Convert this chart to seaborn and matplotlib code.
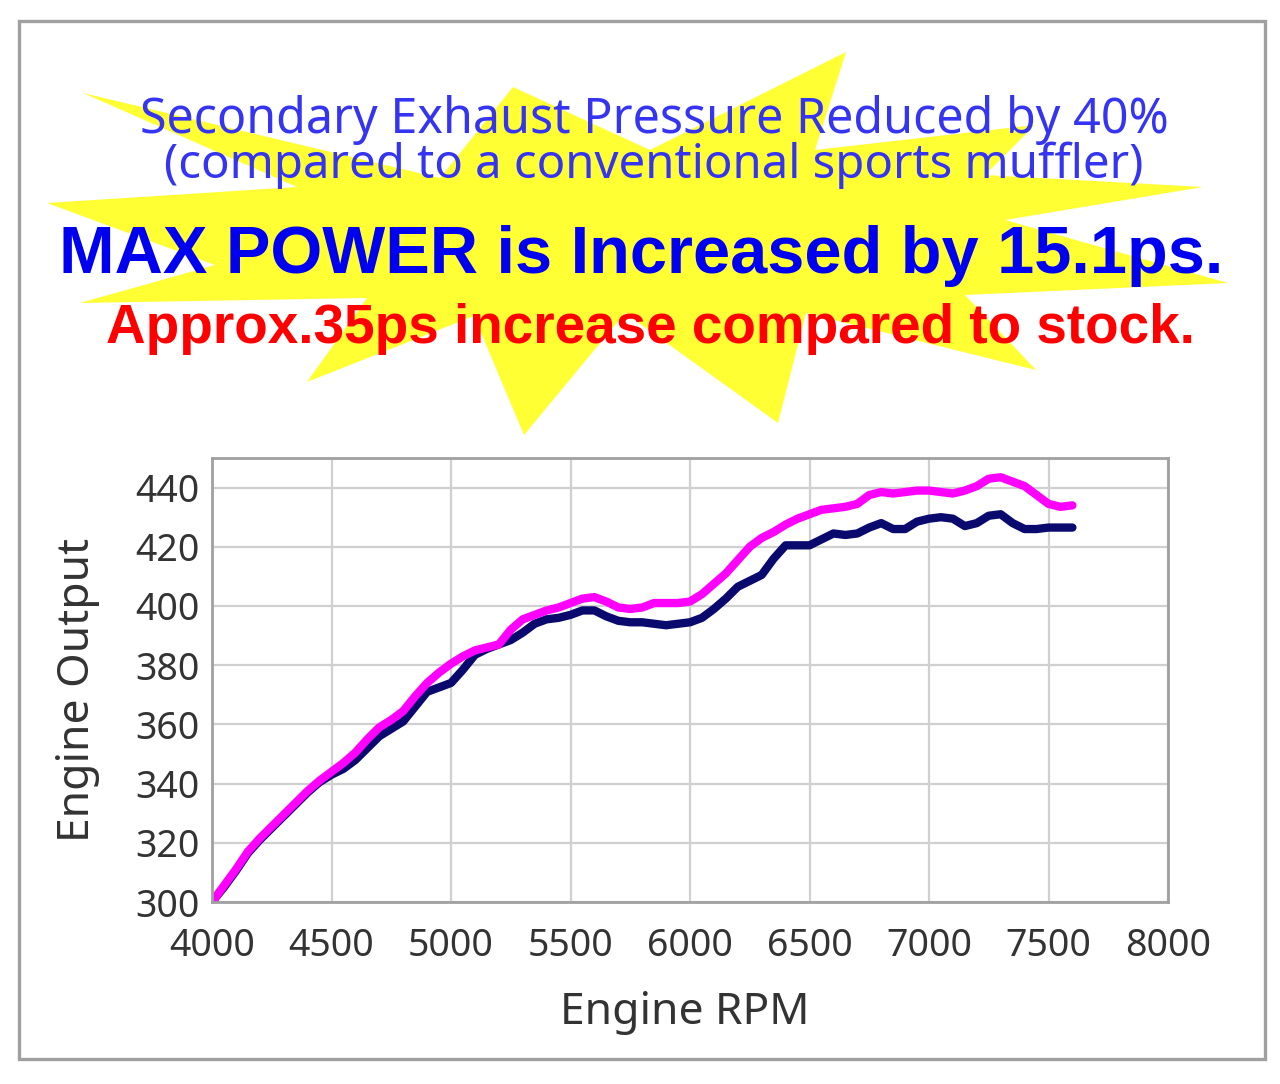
import matplotlib
matplotlib.use("Agg")
import numpy as np
import pandas as pd
import seaborn as sns
import matplotlib.pyplot as plt
from matplotlib.patches import Polygon, Rectangle

# ---------------- data ----------------
rpm = list(range(4000, 7601, 50))

conventional = [
    300, 305, 310.5, 316.5, 321, 325, 329, 333, 337, 340.5,
    343, 345, 348, 352, 356, 358.5, 361, 366, 371, 372.5,
    374, 378.5, 383.5, 385.5, 387, 388.5, 391, 394, 395.5, 396,
    397, 398.5, 398.5, 396.5, 395, 394.5, 394.5, 394, 393.5, 394,
    394.5, 396, 399, 402.5, 406.5, 408.5, 410.5, 416, 420.5, 420.5,
    420.5, 422.5, 424.5, 424, 424.5, 426.5, 428, 426, 426, 428.5,
    429.5, 430, 429.5, 427, 428, 430.5, 431, 428, 426, 426,
    426.5, 426.5, 426.5,
]

new_muffler = [
    300, 305.5, 311, 317, 321.5, 325.5, 329.5, 333.5, 337.5, 341,
    344, 347, 350.5, 355, 359, 361.5, 364.5, 369.5, 374, 377.5,
    380.5, 383, 385, 386, 387, 392, 395.5, 397, 398.5, 399.5,
    401, 402.5, 403, 401.5, 399.5, 399, 399.5, 401, 401, 401,
    401.5, 404, 407.5, 411, 415.5, 420, 423, 425, 427.5, 429.5,
    431, 432.5, 433, 433.5, 434.5, 437.5, 438.5, 438, 438.5, 439,
    439, 438.5, 438, 439, 440.5, 443, 443.5, 442, 440.5, 437.5,
    434.5, 433.5, 434,
]

series_names = ["Conventional", "New"]
series_colors = {"Conventional": "#0a0a6e", "New": "#ff00ff"}

x_ticks = [4000, 4500, 5000, 5500, 6000, 6500, 7000, 7500, 8000]
y_ticks = [300, 320, 340, 360, 380, 400, 420, 440]

title1 = "Secondary Exhaust Pressure Reduced by 40%"
title2 = "(compared to a conventional sports muffler)"
title3 = "MAX POWER is Increased by 15.1ps."
title4 = "Approx.35ps increase compared to stock."

# ---------------- figure ----------------
sns.set_style("white")
plt.rcParams['font.family'] = ['Noto Sans', 'DejaVu Sans']

W, H = 1280, 1084
fig = plt.figure(figsize=(W / 100, H / 100), dpi=100)
fig.patch.set_facecolor("white")


def fx(x):
    return x / W


def fy(y):
    return 1 - y / H


# decorative starburst behind the headline
star_px = [
    (83, 93), (440, 178), (513, 87), (650, 150), (846, 52), (815, 150),
    (1035, 125), (985, 175), (1203, 187), (1005, 220), (1228, 283),
    (965, 295), (1036, 370), (806, 313), (778, 423), (625, 313),
    (524, 435), (474, 316), (307, 382), (367, 298), (80, 303),
    (215, 265), (47, 203), (297, 187),
]
star = Polygon([(fx(x), fy(y)) for x, y in star_px], closed=True,
               transform=fig.transFigure, facecolor="#ffff33",
               edgecolor="none", zorder=0)
fig.patches.append(star)

# outer frame
frame = Rectangle((fx(19), fy(1059)), (1265 - 19) / W, (1059 - 21) / H,
                  transform=fig.transFigure, fill=False,
                  edgecolor="#a0a0a0", linewidth=2.4, zorder=1)
fig.patches.append(frame)

# ---------------- plot ----------------
ax = fig.add_axes([fx(212), fy(902), (1168 - 212) / W, (902 - 458) / H])

df = pd.DataFrame({
    "rpm": rpm + rpm,
    "output": conventional + new_muffler,
    "muffler": [series_names[0]] * len(rpm) + [series_names[1]] * len(rpm),
})
sns.lineplot(data=df, x="rpm", y="output", hue="muffler",
             hue_order=series_names, palette=series_colors,
             linewidth=6, legend=False, sort=False, ax=ax,
             solid_capstyle="round", solid_joinstyle="round")

ax.set_xlim(4000, 8000)
ax.set_ylim(300, 450)
ax.set_xticks(x_ticks)
ax.set_yticks(y_ticks)
ax.grid(True, color="#d0d0d0", linewidth=1.6)
ax.set_axisbelow(True)
for sp in ax.spines.values():
    sp.set_color("#a0a0a0")
    sp.set_linewidth(2.0)
ax.tick_params(axis="both", length=0, labelsize=27, colors="#333333")
ax.tick_params(axis="x", pad=18)
ax.tick_params(axis="y", pad=9)

ax.set_xlabel("Engine RPM", fontsize=32, color="#333333")
ax.set_ylabel("Engine Output", fontsize=32, color="#333333")
ax.xaxis.label.set_va("center")
ax.xaxis.set_label_coords((685 - 212) / 956, (902 - 1013) / 444)
ax.yaxis.label.set_va("center")
ax.yaxis.set_label_coords((78 - 212) / 956, (902 - 690) / 444)

# ---------------- headline texts ----------------
t1 = fig.text(fx(654), fy(133), title1, ha="center", va="baseline",
              fontsize=28, color="#3434f2", zorder=3)
t2 = fig.text(fx(654), fy(178), title2, ha="center", va="baseline",
              fontsize=28, color="#3434f2", zorder=3)
t3 = fig.text(fx(641), fy(273), title3, ha="center", va="baseline",
              fontsize=44, fontweight="bold", color="#0000f0", zorder=3,
              family=["Liberation Sans", "DejaVu Sans"])
t4 = fig.text(fx(650), fy(343), title4, ha="center", va="baseline",
              fontsize=36, fontweight="bold", color="#ff0000", zorder=3,
              family=["Liberation Sans", "DejaVu Sans"])

fig.canvas.draw()
renderer = fig.canvas.get_renderer()
for t, target in [(t1, 1028), (t2, 978), (t3, 1167), (t4, 1090)]:
    bb = t.get_window_extent(renderer)
    t.set_fontsize(t.get_fontsize() * target / bb.width)

fig.savefig("out.png", dpi=100, facecolor="white")
